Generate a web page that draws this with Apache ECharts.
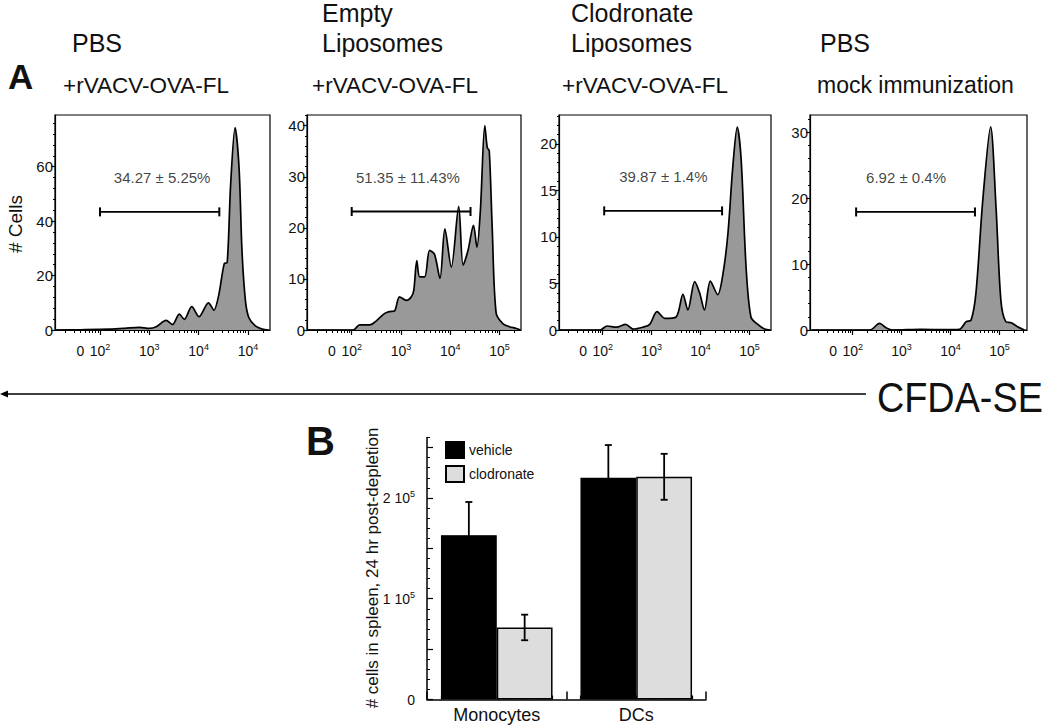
<!DOCTYPE html>
<html><head><meta charset="utf-8">
<script src="https://cdn.jsdelivr.net/npm/echarts@6/dist/echarts.min.js"></script>
<style>html,body{margin:0;padding:0;background:#fff}#c{width:1050px;height:725px}</style>
</head><body><div id="c"></div><script>
const FONT = '"Liberation Sans", Arial, Helvetica, sans-serif';

// ---------- Panel A data: CFDA-SE histograms (x in log-decade units, 2 = 10^2) ----------
const panelTitles = [["PBS"], ["Empty", "Liposomes"], ["Clodronate", "Liposomes"], ["PBS"]];
const panelSubtitles = ["+rVACV-OVA-FL", "+rVACV-OVA-FL", "+rVACV-OVA-FL", "mock immunization"];

const histPBS = [[1.10,0],[1.6,0.1],[2.2,0.3],[2.5,0.6],[2.8,1.0],[3.0,0.6],[3.14,1.2],[3.34,3.5],[3.47,2.0],[3.61,5.8],[3.71,3.9],[3.86,8.6],[4.01,4.9],[4.20,10.0],[4.31,7.3],[4.41,13],[4.52,24.4],[4.58,24.8],[4.65,53.6],[4.74,74.4],[4.82,59.7],[4.88,29],[4.95,10.7],[5.02,4.5],[5.15,1.5],[5.29,0.3],[5.42,0]];
const histEmpty = [[1.10,0],[2.03,0],[2.16,1.0],[2.37,1.0],[2.50,1.8],[2.67,3.25],[2.77,3.6],[2.87,3.75],[2.97,6.5],[3.11,5.8],[3.21,6.5],[3.26,7.8],[3.32,13.6],[3.38,10.4],[3.48,10.4],[3.58,15.6],[3.68,14.8],[3.79,10.1],[3.89,19.8],[4.02,12.3],[4.17,24.2],[4.26,12.7],[4.36,15.6],[4.47,20.5],[4.54,16.2],[4.61,23.4],[4.70,40.0],[4.75,35.7],[4.79,35.1],[4.85,20],[4.93,3.3],[5.07,1.2],[5.20,0.65],[5.34,0.3],[5.42,0]];
const histClod = [[1.12,0],[1.94,0],[2.09,0.43],[2.28,0.3],[2.47,0.6],[2.62,0.1],[2.82,0.3],[2.96,0.6],[3.11,1.97],[3.27,1.25],[3.50,1.4],[3.64,3.83],[3.74,2.15],[3.88,5.2],[3.98,4.0],[4.08,2.15],[4.20,5.25],[4.35,3.8],[4.46,6.1],[4.56,10.4],[4.66,17.6],[4.75,21.8],[4.83,18.3],[4.93,6.8],[5.03,1.4],[5.17,0.6],[5.31,0.1],[5.42,0]];
const histMock = [[1.16,0],[2.35,0],[2.55,1.0],[2.69,0.3],[2.82,0],[3.4,0.1],[3.9,0.05],[4.18,0.1],[4.32,1.26],[4.42,1.5],[4.52,5.6],[4.66,19.7],[4.82,30.8],[4.93,18.7],[5.03,4.5],[5.13,1.26],[5.24,1.1],[5.37,0.5],[5.51,0]];

// gate: [start, end, height]
const gates = [[2.00, 4.42, 43.4], [2.00, 4.41, 23.2], [2.03, 4.44, 12.8], [2.07, 4.50, 17.9]];
const gateLabels = ["34.27 ± 5.25%", "51.35 ± 11.43%", "39.87 ± 1.4%", "6.92 ± 0.4%"];
const gateLabelX = [3.26, 3.14, 3.24, 3.09];

const histXTickValues = [1.6, 2, 3, 4, 5];
const histXTickLabels = [
  [["0",""],["10","2"],["10","3"],["10","4"],["10","4"]],
  [["0",""],["10","2"],["10","3"],["10","4"],["10","5"]],
  [["0",""],["10","2"],["10","3"],["10","4"],["10","5"]],
  [["0",""],["10","2"],["10","3"],["10","4"],["10","5"]]
];
const histYTicks = [[0,20,40,60],[0,10,20,30,40],[0,5,10,15,20],[0,10,20,30]];
const histYMax = [79, 42.1, 23.1, 32.6];

// ---------- Panel B data ----------
const barCategories = ["Monocytes", "DCs"];
const vehicleMean = [163000, 220000];
const vehicleSD = [33000, 32500];
const clodronateMean = [71500, 221000];
const clodronateSD = [12700, 22800];
const barYTickValues = [0, 100000, 200000];
const barYTickLabels = [["0",""],["1 10","5"],["2 10","5"]];

// ---------- layout ----------
const histData = [histPBS, histEmpty, histClod, histMock];
const gridA = [
  {left:55, width:215, xmin:1.087, xmax:5.448},
  {left:307, width:214, xmin:1.093, xmax:5.434},
  {left:559, width:212, xmin:1.106, xmax:5.44},
  {left:810, width:217, xmin:1.127, xmax:5.564}
];
const A_TOP = 115, A_H = 215;

function supLabel(pair){ return pair[1] ? pair[0] + '{s|' + pair[1] + '}' : pair[0]; }
function findIdx(arr, v){ for (let i=0;i<arr.length;i++){ if (Math.abs(arr[i]-v) < 1e-6) return i; } return -1; }

function minorX(min, max){
  const out = [];
  for (let d = 1; d <= 5; d++) for (let k = 2; k <= 9; k++){
    const u = d + Math.log10(k);
    if (u > min && u < max) out.push(u);
  }
  return out;
}

const grids = [], xAxes = [], yAxes = [], series = [];

gridA.forEach((g, i) => {
  grids.push({left:g.left, top:A_TOP, width:g.width, height:A_H, show:true, borderColor:'#000', borderWidth:1.2, backgroundColor:'transparent'});
  const labels = histXTickLabels[i];
  xAxes.push({
    type:'value', gridIndex:i, min:g.xmin, max:g.xmax, splitLine:{show:false},
    axisLine:{show:true, lineStyle:{color:'#000', width:1.2}},
    axisTick:{show:true, customValues:[2,3,4,5], length:5, lineStyle:{color:'#000', width:1.2}},
    axisLabel:{customValues:histXTickValues, fontFamily:FONT, fontSize:14, color:'#111', margin:12, lineHeight:17,
      formatter:(v)=>{const k=findIdx(histXTickValues, v); return k<0?'':supLabel(labels[k]);},
      rich:{s:{fontSize:9, lineHeight:9, verticalAlign:'top', fontFamily:FONT, color:'#111'}}}
  });
  xAxes.push({
    type:'value', gridIndex:i, min:g.xmin, max:g.xmax, position:'bottom', splitLine:{show:false},
    axisLine:{show:false}, axisLabel:{show:false},
    axisTick:{show:true, customValues:minorX(g.xmin, g.xmax), length:3, lineStyle:{color:'#000', width:1}}
  });
  const yt = histYTicks[i];
  const step = (yt[1]-yt[0]) / 5;
  const minors = [];
  for (let v = step; v < histYMax[i]; v += step) minors.push(+v.toFixed(4));
  yAxes.push({
    type:'value', gridIndex:i, min:0, max:histYMax[i], splitLine:{show:false},
    axisLine:{show:true, lineStyle:{color:'#000', width:1.2}},
    axisTick:{show:true, customValues:yt, length:4, lineStyle:{color:'#000', width:1.2}},
    axisLabel:{customValues:yt, fontFamily:FONT, fontSize:15, color:'#111', margin:2}
  });
  yAxes.push({
    type:'value', gridIndex:i, min:0, max:histYMax[i], position:'left', splitLine:{show:false},
    axisLine:{show:false}, axisLabel:{show:false},
    axisTick:{show:true, customValues:minors, length:2, lineStyle:{color:'#000', width:1}}
  });
  series.push({
    type:'line', xAxisIndex:2*i, yAxisIndex:2*i, data:histData[i], smooth:0.3, symbol:'none',
    lineStyle:{color:'#000', width:1.7}, areaStyle:{color:'#999999', opacity:1}, z:2
  });
  const gt = gates[i];
  series.push({
    type:'line', xAxisIndex:2*i, yAxisIndex:2*i, symbol:'rect', symbolSize:[2,9],
    itemStyle:{color:'#000'}, lineStyle:{color:'#000', width:1.8}, z:3,
    data:[[gt[0], gt[2]], [gt[1], gt[2]]]
  });
  series.push({
    type:'scatter', xAxisIndex:2*i, yAxisIndex:2*i, symbol:'circle', symbolSize:1,
    itemStyle:{color:'rgba(0,0,0,0)'}, z:4, silent:true,
    data:[[gateLabelX[i], gt[2]]],
    label:{show:true, position:'top', distance:26, formatter:gateLabels[i], fontFamily:FONT, fontSize:15, color:'#111'}
  });
});

// ---------- Panel B ----------
const bi = 4;
grids.push({left:427, top:437.5, width:279, height:262});
xAxes.push({
  type:'category', gridIndex:bi, data:barCategories, position:'bottom',
  axisLine:{show:true, lineStyle:{color:'#000', width:1.5}},
  axisTick:{show:true, inside:true, length:8, lineStyle:{color:'#000', width:1.5}},
  axisLabel:{fontFamily:FONT, fontSize:18, color:'#111', margin:6}
});
const barXMinor = [];
for (let k = 1; k < 20; k++) if (k !== 10) barXMinor.push(k);
xAxes.push({
  type:'value', gridIndex:bi, min:0, max:20, position:'bottom', splitLine:{show:false},
  axisLine:{show:false}, axisLabel:{show:false},
  axisTick:{show:true, inside:true, customValues:barXMinor, length:4, lineStyle:{color:'#000', width:1.2}}
});
const barMajor = [], barMinor = [];
for (let v = 0; v <= 260000; v += 10000){ if (v % 50000 === 0) barMajor.push(v); else barMinor.push(v); }
yAxes.push({
  type:'value', gridIndex:bi, min:0, max:260000, splitLine:{show:false},
  axisLine:{show:true, lineStyle:{color:'#000', width:1.5}},
  axisTick:{show:true, inside:true, customValues:barMajor, length:6, lineStyle:{color:'#000', width:1.2}},
  axisLabel:{customValues:barYTickValues, fontFamily:FONT, fontSize:14, color:'#111', margin:12, lineHeight:16,
    formatter:(v)=>{const k=findIdx(barYTickValues, v); return k<0?'':supLabel(barYTickLabels[k]);},
    rich:{s:{fontSize:9, lineHeight:9, verticalAlign:'top', fontFamily:FONT, color:'#111'}}}
});
yAxes.push({
  type:'value', gridIndex:bi, min:0, max:260000, position:'left', splitLine:{show:false},
  axisLine:{show:false}, axisLabel:{show:false},
  axisTick:{show:true, inside:true, customValues:barMinor, length:3, lineStyle:{color:'#000', width:1}}
});
const BX = 2*bi, BY = 2*bi;
series.push({name:'vehicle', type:'bar', xAxisIndex:BX, yAxisIndex:BY, data:vehicleMean, barGap:'0%', barCategoryGap:'20%',
  itemStyle:{color:'#000', borderColor:'#000', borderWidth:1.2}, z:2});
series.push({name:'clodronate', type:'bar', xAxisIndex:BX, yAxisIndex:BY, data:clodronateMean, barGap:'0%', barCategoryGap:'20%',
  itemStyle:{color:'#dcdddc', borderColor:'#000', borderWidth:1.5}, z:2});
function errSeries(mean, sd, side){
  return {type:'custom', xAxisIndex:BX, yAxisIndex:BY, z:5,
    data: mean.map((m, k) => [k, m, sd[k]]),
    renderItem:(params, api) => {
      const cat = api.value(0), m = api.value(1), s = api.value(2);
      const band = api.size([1, 0])[0];
      const bw = band * 0.8 / 2;
      const c = api.coord([cat, m]);
      const x = c[0] + side * bw / 2;
      const yt = api.coord([cat, m + s])[1], yb = api.coord([cat, m - s])[1];
      const st = {stroke:'#000', lineWidth:1.8};
      return {type:'group', children:[
        {type:'line', shape:{x1:x, y1:yt, x2:x, y2:yb}, style:st},
        {type:'line', shape:{x1:x-3.5, y1:yt, x2:x+3.5, y2:yt}, style:st},
        {type:'line', shape:{x1:x-3.5, y1:yb, x2:x+3.5, y2:yb}, style:st}
      ]};
    }};
}
series.push(errSeries(vehicleMean, vehicleSD, -1));
series.push(errSeries(clodronateMean, clodronateSD, 1));

// ---------- graphic texts ----------
const graphic = [];
function txt(text, x, y, size, opts){
  opts = opts || {};
  graphic.push({type:'text', x:x, y:y, rotation:opts.rotation || 0, scaleX:opts.scaleX || 1,
    style:{text:text, font:(opts.weight||'normal') + ' ' + size + 'px ' + FONT, fill:'#111',
      align:opts.align || 'left', verticalAlign:'middle'}});
}
const titleX = [72, 322, 571, 820];
const subX = [63, 312, 562, 817];
panelTitles.forEach((t, i) => {
  if (t.length === 2){ txt(t[0], titleX[i], 13, 25); txt(t[1], titleX[i], 43, 25); }
  else txt(t[0], titleX[i], 43, 25);
  txt(panelSubtitles[i], subX[i], 85, i === 3 ? 23 : 22.5);
});
txt('A', 8, 76, 35, {weight:'bold'});
txt('B', 306, 441, 40, {weight:'bold'});
txt('CFDA-SE', 877, 397, 42, {scaleX:0.9});
txt('# Cells', 15, 224, 19, {rotation:Math.PI/2, align:'center'});
txt('# cells in spleen, 24 hr post-depletion', 372, 568, 17, {rotation:Math.PI/2, align:'center'});
graphic.push({type:'line', shape:{x1:4, y1:394, x2:866, y2:394}, style:{stroke:'#000', lineWidth:1.5}});
graphic.push({type:'polygon', shape:{points:[[0,394],[8,390.5],[8,397.5]]}, style:{fill:'#000'}});

const chart = echarts.init(document.getElementById('c'), null, {renderer:'svg', width:1050, height:725});
chart.setOption({
  animation:false,
  backgroundColor:'#fff',
  textStyle:{fontFamily:FONT},
  grid:grids, xAxis:xAxes, yAxis:yAxes, series:series, graphic:graphic,
  legend:{data:['vehicle','clodronate'], orient:'vertical', left:440, top:436, itemWidth:18, itemHeight:16, itemGap:6,
    icon:'rect', selectedMode:false, textStyle:{fontFamily:FONT, fontSize:14, color:'#111'}}
});
</script></body></html>
